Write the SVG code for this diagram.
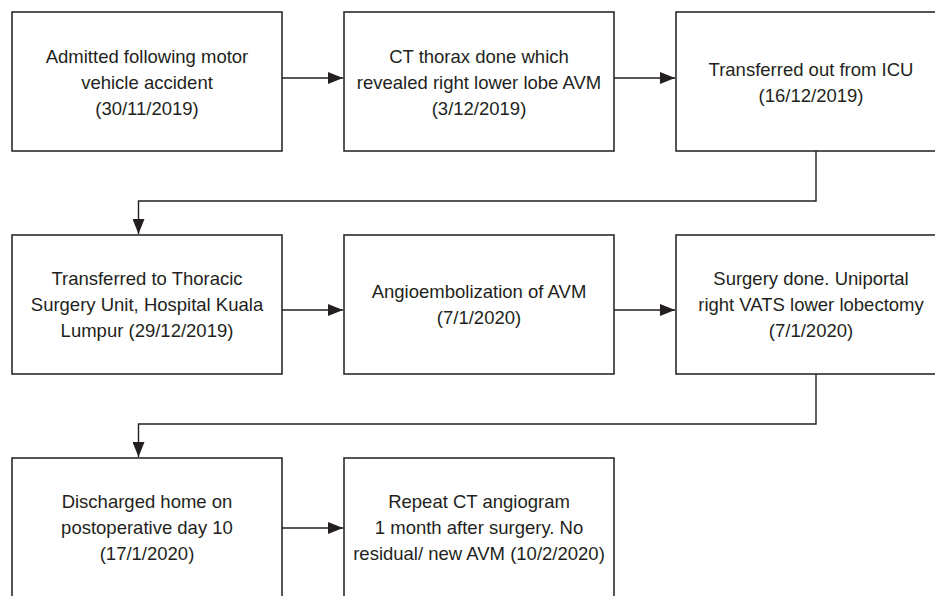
<svg xmlns="http://www.w3.org/2000/svg" width="935" height="596" viewBox="0 0 935 596">
<style>
.box{fill:#fff;stroke:#2b2b2b;stroke-width:1.6}
.t{font-family:"Liberation Sans",Arial,Helvetica,sans-serif;font-size:18.5px;fill:#231f20;text-anchor:middle}
.c{fill:none;stroke:#231f20;stroke-width:1.4}
</style>
<defs>
<marker id="ah" markerUnits="userSpaceOnUse" markerWidth="16" markerHeight="12" refX="15" refY="6" orient="auto">
<path d="M0,0 L15,6 L0,12 z" fill="#231f20"/>
</marker>
</defs>
<rect width="935" height="596" fill="#fff"/>
<g id="n1"><rect class="box" x="12" y="12" width="270" height="139"/>
<text class="t" x="147" y="63">Admitted following motor</text>
<text class="t" x="147" y="89">vehicle accident</text>
<text class="t" x="147" y="115">(30/11/2019)</text></g>
<g id="n2"><rect class="box" x="344" y="12" width="270" height="139"/>
<text class="t" x="479" y="63">CT thorax done which</text>
<text class="t" x="479" y="89">revealed right lower lobe AVM</text>
<text class="t" x="479" y="115">(3/12/2019)</text></g>
<g id="n3"><rect class="box" x="676" y="12" width="270" height="139"/>
<text class="t" x="811" y="76">Transferred out from ICU</text>
<text class="t" x="811" y="102">(16/12/2019)</text></g>
<g id="n4"><rect class="box" x="12" y="235" width="270" height="139"/>
<text class="t" x="147" y="285">Transferred to Thoracic</text>
<text class="t" x="147" y="311">Surgery Unit, Hospital Kuala</text>
<text class="t" x="147" y="337">Lumpur (29/12/2019)</text></g>
<g id="n5"><rect class="box" x="344" y="235" width="270" height="139"/>
<text class="t" x="479" y="298">Angioembolization of AVM</text>
<text class="t" x="479" y="324">(7/1/2020)</text></g>
<g id="n6"><rect class="box" x="676" y="235" width="270" height="139"/>
<text class="t" x="811" y="285">Surgery done. Uniportal</text>
<text class="t" x="811" y="311">right VATS lower lobectomy</text>
<text class="t" x="811" y="337">(7/1/2020)</text></g>
<g id="n7"><rect class="box" x="12" y="458" width="270" height="139"/>
<text class="t" x="147" y="508">Discharged home on</text>
<text class="t" x="147" y="534">postoperative day 10</text>
<text class="t" x="147" y="560">(17/1/2020)</text></g>
<g id="n8"><rect class="box" x="344" y="458" width="270" height="139"/>
<text class="t" x="479" y="508">Repeat CT angiogram</text>
<text class="t" x="479" y="534">1 month after surgery. No</text>
<text class="t" x="479" y="560">residual/ new AVM (10/2/2020)</text></g>
<g id="connectors">
<path class="c" d="M282,78 H343" marker-end="url(#ah)"/>
<path class="c" d="M614,78 H675" marker-end="url(#ah)"/>
<path class="c" d="M816,151 V201 H138.5 V234" marker-end="url(#ah)"/>
<path class="c" d="M282,310 H343" marker-end="url(#ah)"/>
<path class="c" d="M614,310 H675" marker-end="url(#ah)"/>
<path class="c" d="M816,374 V424 H138.5 V457" marker-end="url(#ah)"/>
<path class="c" d="M282,528 H343" marker-end="url(#ah)"/>
</g>
</svg>
